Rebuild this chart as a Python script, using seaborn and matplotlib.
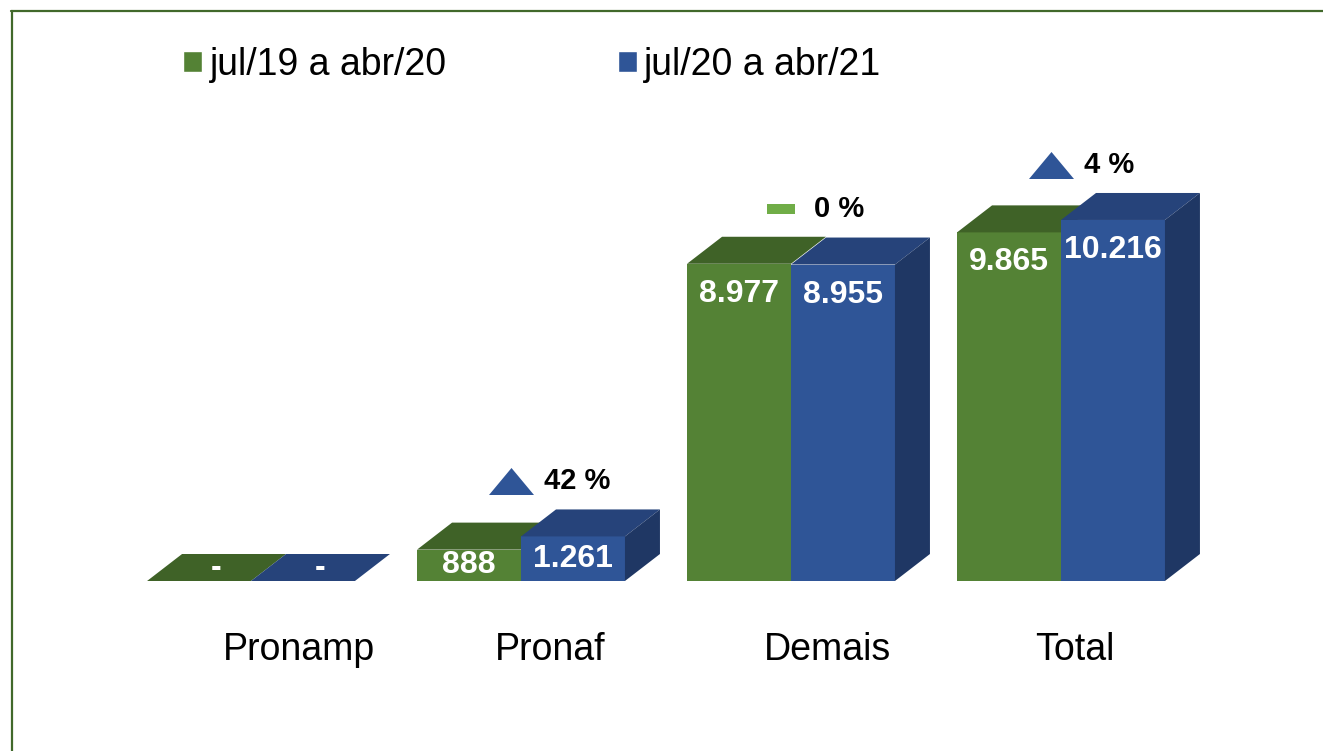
import numpy as np
import pandas as pd
import seaborn as sns
import matplotlib
matplotlib.use("Agg")
import matplotlib.pyplot as plt
from matplotlib.patches import Polygon
from matplotlib.lines import Line2D

# ---------------- data ----------------
categories = ["Pronamp", "Pronaf", "Demais", "Total"]
series_names = ["jul/19 a abr/20", "jul/20 a abr/21"]
values_1920 = [0, 888, 8977, 9865]
values_2021 = [0, 1261, 8955, 10216]
change_labels = ["", "42 %", "0 %", "4 %"]
change_kind = [None, "up", "flat", "up"]

# layout (pixel offsets of category labels relative to group centre)
label_shift_px = [48, 29, 36, 14]

# ---------------- style ----------------
GREEN = "#548235"
GREEN_TOP = "#3F6227"
BLUE = "#2F5597"
BLUE_TOP = "#26437A"
BLUE_SIDE = "#1F3764"
FLAT = "#70AD47"
FRAME = "#41692B"

df = pd.DataFrame({
    "categoria": categories * 2,
    "valor": values_1920 + values_2021,
    "periodo": [series_names[0]] * len(categories) + [series_names[1]] * len(categories),
})

sns.set_theme(style="white")
plt.rcParams["font.family"] = ["Liberation Sans", "DejaVu Sans"]
plt.rcParams["text.color"] = "black"
plt.rcParams["xtick.color"] = "black"

W, H = 1323, 751
fig = plt.figure(figsize=(W / 100, H / 100), dpi=100)
fig.patch.set_facecolor("white")
ax_w_px, ax_h_px = 1150, 481
ax = fig.add_axes([100 / W, 170 / H, ax_w_px / W, ax_h_px / H])

sns.barplot(data=df, x="categoria", y="valor", hue="periodo", order=categories,
            hue_order=series_names, palette=[GREEN, BLUE], width=0.77,
            saturation=1, errorbar=None, ax=ax)

ax.set_xlim(-0.5593, 3.7000)
ax.set_ylim(0, 13611)
sx = (ax.get_xlim()[1] - ax.get_xlim()[0]) / ax_w_px   # data units per pixel
sy = (ax.get_ylim()[1] - ax.get_ylim()[0]) / ax_h_px
dx, dy = 35 * sx, 27 * sy

label_font = dict(color="white", fontsize=23, fontweight="bold", ha="center")

for i, (g, b) in enumerate(zip(ax.containers[0], ax.containers[1])):
    for bar, top_c, side_c, zf, zt in [(g, GREEN_TOP, None, 1.5, 2),
                                       (b, BLUE_TOP, BLUE_SIDE, 3, 4)]:
        x0, w, h = bar.get_x(), bar.get_width(), bar.get_height()
        x1 = x0 + w
        bar.set_zorder(zf)
        bar.set_edgecolor("none")
        ax.add_patch(Polygon([(x0, h), (x1, h), (x1 + dx, h + dy), (x0 + dx, h + dy)],
                             closed=True, fc=top_c, ec="none", zorder=zt))
        if side_c is not None:
            ax.add_patch(Polygon([(x1, 0), (x1 + dx, dy), (x1 + dx, h + dy), (x1, h)],
                                 closed=True, fc=side_c, ec="none", zorder=zt))
        xc = x0 + w / 2
        if h == 0:
            ax.text(xc + dx / 2, dy / 2, "-", va="center", zorder=6, **label_font)
        elif h / sy < 60:
            ax.text(xc, h / 2, f"{int(h):,}".replace(",", "."), va="center",
                    zorder=6, **label_font)
        else:
            ax.text(xc, h - 15 * sy, f"{int(h):,}".replace(",", "."), va="top",
                    zorder=6, **label_font)

    # change annotation
    kind = change_kind[i]
    if kind is not None:
        ytop = max(g.get_height(), b.get_height()) + 55 * sy
        if kind == "up":
            verts = [(-1, -0.6), (1, -0.6), (0, 0.6), (-1, -0.6)]
            ms = 45 / 100 * 72
            col = BLUE
        else:
            verts = [(-1, -0.37), (1, -0.37), (1, 0.37), (-1, 0.37), (-1, -0.37)]
            ms = 27 / 100 * 72
            col = FLAT
        ax.plot([i - 10 * sx], [ytop], marker=verts, ms=ms, color=col,
                markeredgewidth=0, linestyle="none", clip_on=False, zorder=6)
        ax.text(i + 23 * sx, ytop, change_labels[i], fontsize=21, fontweight="bold",
                color="black", ha="left", va="center", zorder=6)

# axes cosmetics
ax.set_xlabel("")
ax.set_ylabel("")
ax.set_yticks([])
ax.set_xticks([k + label_shift_px[k] * sx for k in range(len(categories))],
              labels=categories)
ax.tick_params(axis="x", length=0, pad=37, labelsize=27, labelcolor="black")
for sp in ax.spines.values():
    sp.set_visible(False)
ax.set_facecolor("none")

sns.move_legend(ax, "center left", bbox_to_anchor=(183 / W, 1 - 65 / H),
                bbox_transform=fig.transFigure, ncol=2, frameon=False, title=None,
                fontsize=27, handlelength=0.5, handleheight=0.5, handletextpad=0.21,
                columnspacing=4.56, borderpad=0, borderaxespad=0, labelcolor="black")

# frame lines (top and left)
fig.add_artist(Line2D([11 / W, 1], [1 - 10.5 / H, 1 - 10.5 / H], color=FRAME, lw=1.6,
                      transform=fig.transFigure))
fig.add_artist(Line2D([11.5 / W, 11.5 / W], [0, 1 - 10.5 / H], color=FRAME, lw=1.6,
                      transform=fig.transFigure))

fig.savefig("out.png", dpi=100, facecolor="white")
